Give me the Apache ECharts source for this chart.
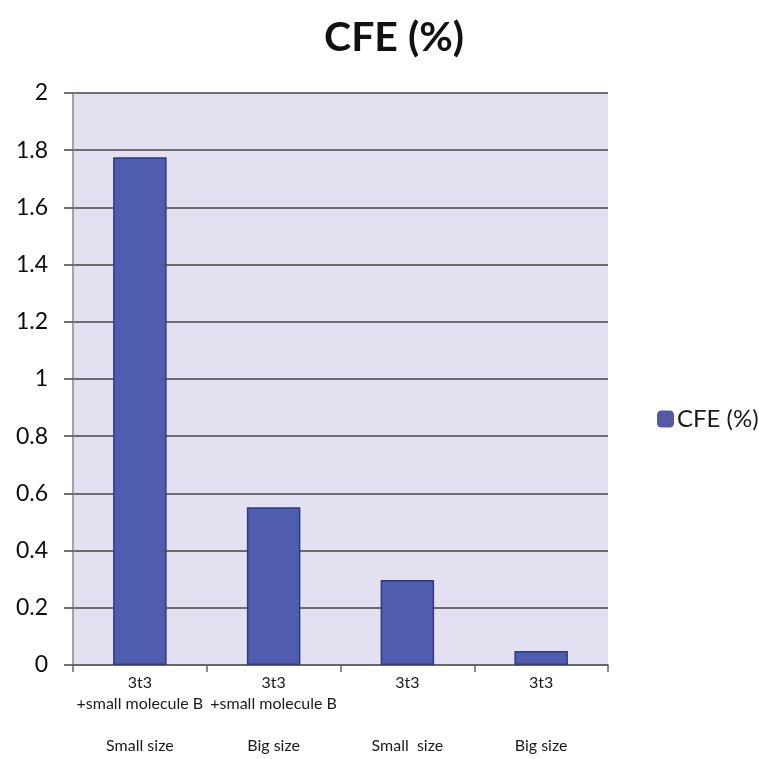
<!DOCTYPE html>
<html><head><meta charset="utf-8">
<script src="https://cdn.jsdelivr.net/npm/echarts@6/dist/echarts.min.js"></script>
<style>html,body{margin:0;padding:0;background:#fff}#c{width:759px;height:759px}</style>
</head><body><div id="c"></div>
<script>
const categories = ["3t3\n+small molecule B\n\nSmall size", "3t3\n+small molecule B\n\nBig size", "3t3\n\n\nSmall  size", "3t3\n\n\nBig size"];
const seriesName = "CFE (%)";
const values = [1.775, 0.552, 0.297, 0.049];
const yTicks = [0, 0.2, 0.4, 0.6, 0.8, 1, 1.2, 1.4, 1.6, 1.8, 2];

const font = "Lato, 'Open Sans', sans-serif";
const chart = echarts.init(document.getElementById('c'));
chart.setOption({
  animation: false,
  backgroundColor: '#fff',
  title: { text: 'CFE (%)', left: 389, top: 12, textAlign: 'center',
    textStyle: { fontFamily: font, fontSize: 41, fontWeight: 'bold', color: '#111' } },
  legend: { data: [seriesName], left: 652, top: 402, itemWidth: 17, itemHeight: 17, itemGap: 4,
    itemStyle: { borderWidth: 0, color: '#5558A6' },
    textStyle: { fontFamily: font, fontSize: 24, color: '#1a1a1a', padding: [0,0,0,-2] } },
  grid: { left: 73, right: 151, top: 93, bottom: 94, show: true, backgroundColor: '#E3E1F1', borderWidth: 0 },
  xAxis: { type: 'category', data: categories,
    axisLine: { lineStyle: { color: '#666', width: 1.5 } },
    axisTick: { show: true, length: 7, lineStyle: { color: '#666', width: 1.5 } },
    axisLabel: { interval: 0, fontFamily: font, fontSize: 16, color: '#1a1a1a', lineHeight: 21, margin: 7 } },
  yAxis: { type: 'value', min: 0, max: 2, interval: 0.2,
    axisLine: { show: true, lineStyle: { color: '#888', width: 1.5 } },
    axisTick: { show: true, length: 9, lineStyle: { color: '#444', width: 1.5 } },
    axisLabel: { fontFamily: font, fontSize: 23, color: '#0d0d0d', margin: 25,
      formatter: v => { const t = yTicks.find(x => Math.abs(x - v) < 1e-9); return t === undefined ? '' : String(t); } },
    splitLine: { lineStyle: { color: '#444', width: 1.5 } } },
  series: [{ name: seriesName, type: 'bar', data: values, barWidth: '40%',
    itemStyle: { color: '#4F5DAE', borderColor: '#2F3A7E', borderWidth: 1.5 } }]
});
</script></body></html>
